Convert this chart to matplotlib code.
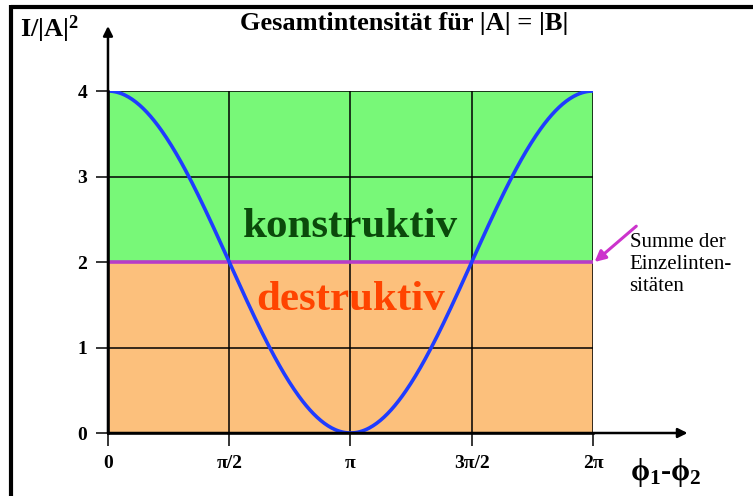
import numpy as np
import matplotlib.pyplot as plt
from matplotlib.lines import Line2D

plt.rcParams['font.family'] = ['Liberation Serif', 'DejaVu Serif']
plt.rcParams['mathtext.fontset'] = 'custom'
plt.rcParams['mathtext.rm'] = 'Liberation Serif:bold'
plt.rcParams['mathtext.it'] = 'Liberation Serif:bold'
plt.rcParams['mathtext.bf'] = 'Liberation Serif:bold'

# amplitudes |A| = |B|, intensity in units of |A|^2
AMP_A = 1.0
AMP_B = 1.0
PHASE_TICKS = [0, np.pi / 2, np.pi, 3 * np.pi / 2, 2 * np.pi]
PHASE_LABELS = ['0', 'π/2', 'π', '3π/2', '2π']
Y_TICKS = [0, 1, 2, 3, 4]

phase = np.linspace(0, 2 * np.pi, 400)
total = AMP_A**2 + AMP_B**2 + 2 * AMP_A * AMP_B * np.cos(phase)
single_sum = AMP_A**2 + AMP_B**2

fig = plt.figure(figsize=(7.53, 4.96), dpi=100)
ax = fig.add_axes([0.1434, 0.127, 0.6441, 0.6895])
ax.set_xlim(0, 2 * np.pi)
ax.set_ylim(0, 4)

ax.axhspan(single_sum, 4, color='#78f878', lw=0, zorder=0)
ax.axhspan(0, single_sum, color='#fcc07c', lw=0, zorder=0)

for x in PHASE_TICKS[1:]:
    ax.axvline(x, color='black', lw=1.1, zorder=1)
for y in Y_TICKS[1:]:
    ax.axhline(y, color='black', lw=1.1, zorder=1)

ax.plot(phase, total, color='#1f3cff', lw=2.6, zorder=3)
ax.axhline(single_sum, color='#b83cc8', lw=2.6, zorder=2)

for s in ['top', 'right']:
    ax.spines[s].set_visible(False)
for s in ['left', 'bottom']:
    ax.spines[s].set_linewidth(1.8)
    ax.spines[s].set_zorder(4)

# axis arrows
ax.annotate('', xy=(0, 1.19), xytext=(0, 0), xycoords='axes fraction',
            arrowprops=dict(arrowstyle='-|>', color='black', lw=1.8,
                            mutation_scale=14, shrinkA=0, shrinkB=0),
            annotation_clip=False)
ax.annotate('', xy=(1.195, 0), xytext=(0, 0), xycoords='axes fraction',
            arrowprops=dict(arrowstyle='-|>', color='black', lw=1.8,
                            mutation_scale=14, shrinkA=0, shrinkB=0),
            annotation_clip=False)

ax.set_xticks(PHASE_TICKS)
ax.set_xticklabels(PHASE_LABELS)
ax.set_yticks(Y_TICKS)
ax.tick_params(length=9, width=1.1, labelsize=14)
ax.tick_params(axis='x', pad=7)
ax.tick_params(axis='y', pad=6)
for lab in ax.get_xticklabels() + ax.get_yticklabels():
    lab.set_fontweight('bold')

# region labels sit under the grid lines
ax.text(np.pi, 2.29, 'konstruktiv', color='#0b4a0b', fontsize=31,
        fontweight='bold', ha='center', va='baseline', zorder=0.5)
ax.text(np.pi, 1.44, 'destruktiv', color='#ff4400', fontsize=31,
        fontweight='bold', ha='center', va='baseline', zorder=0.5)

fig.text(0.537, 0.94, 'Gesamtintensität für |A| = |B|', fontsize=19,
         fontweight='bold', ha='center', va='baseline')
fig.text(0.026, 0.925, r'$\mathbf{I/|A|^2}$', fontsize=19,
         ha='left', va='baseline')
fig.text(0.836, 0.032, r'$\phi_1$-$\phi_2$', fontsize=22,
         fontweight='bold', ha='left', va='baseline')

# pointer to the sum of single intensities
ax.annotate('', xy=(2 * np.pi + 0.02, single_sum), xytext=(0.845, 0.544),
            textcoords='figure fraction',
            arrowprops=dict(arrowstyle='-|>', color='#cc33cc', lw=2.2,
                            mutation_scale=16, shrinkA=0, shrinkB=0),
            annotation_clip=False)
fig.text(0.836, 0.53, 'Summe der\nEinzelinten-\nsitäten', fontsize=15,
         ha='left', va='top', linespacing=1.22)

# frame only along the top and left edge
fig.lines.append(Line2D([0.0146, 1.0], [0.986, 0.986], transform=fig.transFigure,
                        color='black', lw=3.0, solid_capstyle='butt'))
fig.lines.append(Line2D([0.0146, 0.0146], [0.0, 0.9895], transform=fig.transFigure,
                        color='black', lw=3.0, solid_capstyle='butt'))

fig.savefig('out.png', dpi=100)
